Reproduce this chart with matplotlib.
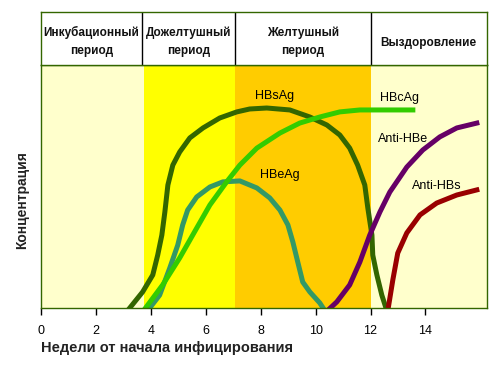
import matplotlib
matplotlib.use('Agg')
import matplotlib.pyplot as plt

plt.rcParams['font.family'] = ['Liberation Sans', 'DejaVu Sans']

# Периоды (недели) и их названия
periods = ['Инкубационный\nпериод', 'Дожелтушный\nпериод', 'Желтушный\nпериод', 'Выздоровление']
period_bounds = [0, 3.74, 7.06, 12.0, 16.24]
header_bounds = [0, 3.67, 7.06, 12.0, 16.24]
period_colors = ['#FFFFCC', '#FFFF00', '#FFCC00', '#FFFFCC']

# Кривые (недели, концентрация в условных единицах 0..100)
hbsag_x = [3.16, 3.70, 4.07, 4.25, 4.40, 4.51, 4.62, 4.80, 5.05, 5.42, 5.90, 6.51, 7.13, 7.60,
           8.22, 9.06, 9.79, 10.41, 10.88, 11.24, 11.53, 11.79, 11.90, 12.05, 12.08, 12.23, 12.41, 12.59]
hbsag_y = [-1, 6.6, 13.6, 21.8, 30.0, 39.5, 50.6, 58.8, 64.2, 70.0, 74.1, 78.2, 80.7, 81.9,
           82.3, 81.5, 78.6, 75.3, 71.2, 65.8, 58.8, 50.6, 41.2, 30.0, 21.8, 13.6, 5.3, -1]

hbcag_x = [3.74, 4.43, 5.05, 5.67, 6.15, 6.76, 7.24, 7.86, 8.70, 9.42, 10.15, 10.88, 11.61, 12.70, 13.54]
hbcag_y = [-1, 9.5, 20.6, 32.9, 42.4, 51.9, 58.8, 65.8, 72.0, 76.1, 78.6, 80.7, 81.5, 81.5, 81.5]

hbeag_x = [3.89, 4.32, 4.69, 4.98, 5.16, 5.34, 5.67, 6.15, 6.62, 7.24, 7.86, 8.33, 8.70, 8.99,
           9.17, 9.35, 9.53, 9.79, 10.15, 10.33]
hbeag_y = [-1, 5.3, 16.5, 25.9, 34.2, 40.3, 45.7, 49.8, 51.9, 52.3, 49.4, 45.3, 40.3, 34.2,
           27.2, 18.9, 10.7, 6.6, 2.1, -1]

antihbe_x = [10.44, 10.77, 11.24, 11.61, 11.97, 12.34, 12.70, 13.32, 13.90, 14.52, 15.14, 15.87]
antihbe_y = [-1, 2.5, 9.5, 18.9, 30.0, 39.5, 47.7, 58.0, 65.0, 70.4, 74.1, 76.1]

antihbs_x = [12.63, 12.81, 12.99, 13.32, 13.80, 14.41, 15.14, 15.87]
antihbs_y = [-1, 11.5, 22.6, 30.9, 38.3, 43.2, 46.5, 48.6]

weeks_ticks = [0, 2, 4, 6, 8, 10, 12, 14]

fig = plt.figure(figsize=(5, 3.68), dpi=100)
ax = fig.add_axes([41/500, 60/368, 446/500, 243/368])
hax = fig.add_axes([41/500, 303/368, 446/500, 53/368])

# Фон по периодам
for i in range(len(periods)):
    ax.axvspan(period_bounds[i], period_bounds[i+1], color=period_colors[i], lw=0)

lw = 3.6
ax.plot(hbsag_x, hbsag_y, color='#336600', lw=lw, solid_joinstyle='round')
ax.plot(hbeag_x, hbeag_y, color='#339966', lw=lw, solid_joinstyle='round')
ax.plot(hbcag_x, hbcag_y, color='#33CC00', lw=lw, solid_joinstyle='round')
ax.plot(antihbe_x, antihbe_y, color='#660066', lw=lw, solid_joinstyle='round')
ax.plot(antihbs_x, antihbs_y, color='#990000', lw=lw, solid_joinstyle='round')

ax.text(8.51, 87.2, 'HBsAg', fontsize=9, ha='center', va='center')
ax.text(8.69, 54.7, 'HBeAg', fontsize=9, ha='center', va='center')
ax.text(13.07, 86.4, 'HBcAg', fontsize=9, ha='center', va='center')
ax.text(13.18, 69.5, 'Anti-HBe', fontsize=9, ha='center', va='center')
ax.text(14.41, 50.2, 'Anti-HBs', fontsize=9, ha='center', va='center')

ax.set_xlim(0, 16.24)
ax.set_ylim(0, 100)
ax.set_xticks(weeks_ticks)
ax.set_yticks([])
ax.tick_params(axis='x', direction='out', length=5, width=1, pad=7, labelsize=9, color='black')
for s in ax.spines.values():
    s.set_color('#336600')
    s.set_linewidth(1)

# Шапка с названиями периодов
hax.set_xlim(0, 16.24)
hax.set_ylim(0, 1)
hax.set_xticks([])
hax.set_yticks([])
for s in hax.spines.values():
    s.set_color('#336600')
    s.set_linewidth(1)
for b in header_bounds[1:-1]:
    hax.axvline(b, color='black', lw=1)
for i, name in enumerate(periods):
    cx = (header_bounds[i] + header_bounds[i+1]) / 2
    cy = 0.44 if '\n' in name else 0.415
    hax.text(cx, cy, name, ha='center', va='center', fontsize=8.5, fontweight='bold',
             linespacing=1.6, color='#111111')

fig.text(41/500, 1 - 348/368, 'Недели от начала инфицирования', fontsize=10.5,
         fontweight='bold', ha='left', va='center', color='#222222')
fig.text(22/500, 1 - 200/368, 'Концентрация', fontsize=10, fontweight='bold',
         rotation=90, ha='center', va='center', color='#222222')

fig.savefig('out.png', dpi=100)
